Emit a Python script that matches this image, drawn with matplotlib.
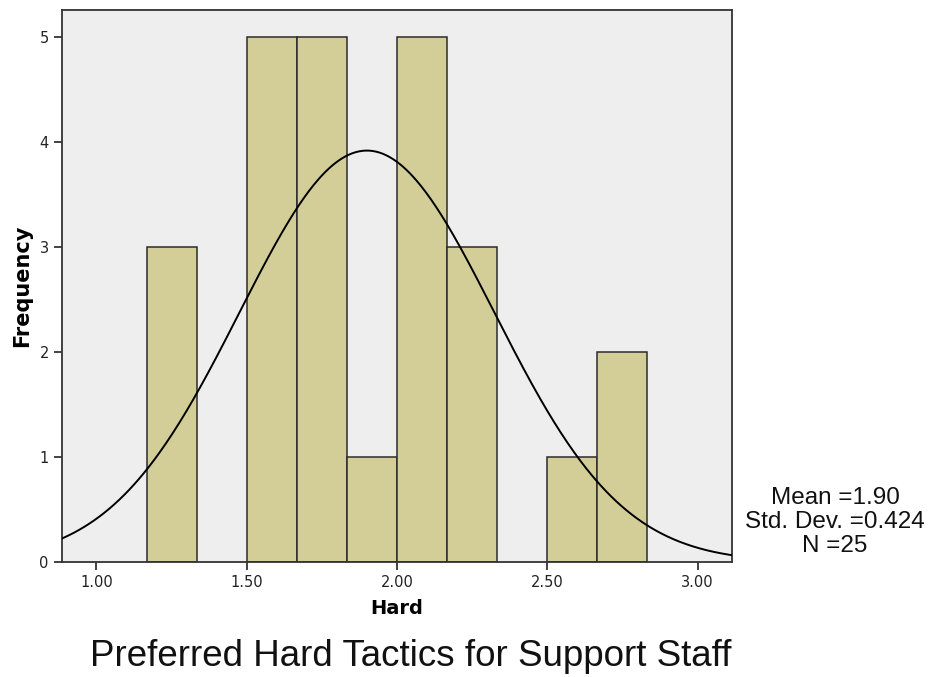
import numpy as np
import matplotlib.pyplot as plt

# histogram bins (width 1/6) and counts for the "Hard" score
bin_left = [7 / 6, 9 / 6, 10 / 6, 11 / 6, 12 / 6, 13 / 6, 15 / 6, 16 / 6]
counts = [3, 5, 5, 1, 5, 3, 1, 2]
bin_width = 1 / 6

mean = 1.90
std = 0.424
n = 25

x_ticks = [1.0, 1.5, 2.0, 2.5, 3.0]
x_labels = ['1.00', '1.50', '2.00', '2.50', '3.00']
y_ticks = [0, 1, 2, 3, 4, 5]

plt.rcParams['font.family'] = ['Liberation Sans', 'DejaVu Sans']

fig = plt.figure(figsize=(9.38, 6.77), dpi=100)
ax = fig.add_axes([62 / 938, 1 - 562 / 677, 670 / 938, 552 / 677])
ax.set_facecolor('#eeeeee')

ax.bar(bin_left, counts, width=bin_width, align='edge',
       color='#d3ce97', edgecolor='#2b2b2b', linewidth=1.1, zorder=2)

# normal curve scaled to counts
xs = np.linspace(0.8855, 3.1146, 400)
ys = n * bin_width * np.exp(-0.5 * ((xs - mean) / std) ** 2) / (std * np.sqrt(2 * np.pi))
ax.plot(xs, ys, color='black', linewidth=1.4, zorder=3)

ax.set_xlim(0.8855, 3.1146)
ax.set_ylim(0, 5.26)
ax.set_xticks(x_ticks)
ax.set_xticklabels(x_labels)
ax.set_yticks(y_ticks)
ax.tick_params(direction='out', length=6, width=1.2, colors='#222222',
               labelsize=10.5, labelcolor='#222222')
for lab in ax.get_xticklabels() + ax.get_yticklabels():
    lab.set_family('DejaVu Sans')
for sp in ax.spines.values():
    sp.set_color('#333333')
    sp.set_linewidth(1.3)

ax.set_xlabel('Hard', fontsize=14, fontweight='bold', family='DejaVu Sans',
              labelpad=6)
ax.set_ylabel('Frequency', fontsize=15, fontweight='bold', family='DejaVu Sans',
              labelpad=5)

fig.text(835 / 938, 1 - 522 / 677,
         'Mean =1.90\nStd. Dev. =0.424\nN =25',
         ha='center', va='center', fontsize=17.5, linespacing=1.12, color='#111111')

fig.text(411 / 938, 1 - 656 / 677, 'Preferred Hard Tactics for Support Staff',
         ha='center', va='center', fontsize=26.5, color='#111111')

fig.savefig('out.png', dpi=100, facecolor='white')
